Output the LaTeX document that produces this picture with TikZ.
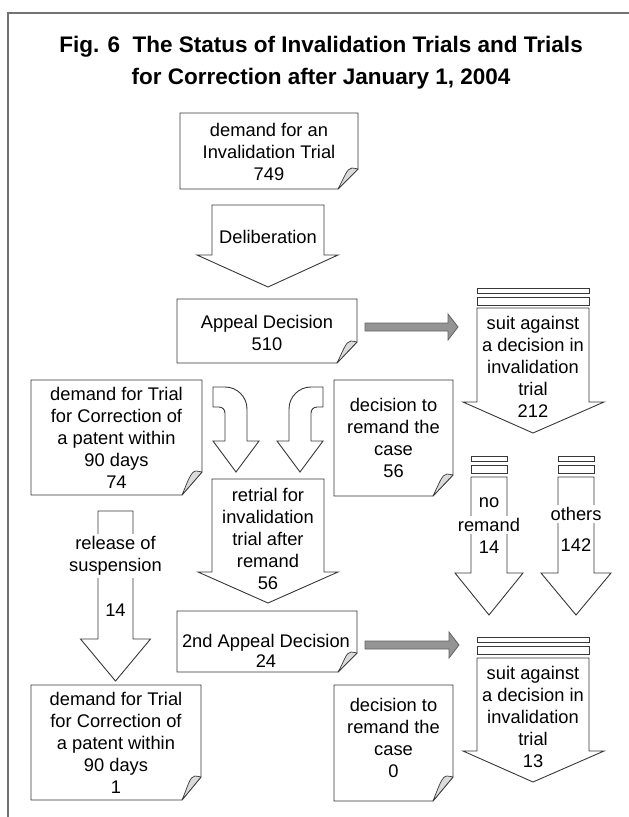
\documentclass[tikz,border=0pt]{standalone}
\usepackage{fontspec}
\setmainfont{Liberation Sans}
\tikzset{
  ln/.style={draw=black!78, line width=0.9pt, line join=miter, fill=white},
  txt/.style={font=\fontsize{18.3}{22}\selectfont, align=center, inner sep=0pt},
  wtxt/.style={txt, fill=white, inner xsep=1pt, inner ysep=2pt},
  curl/.style={draw=black!78, line width=0.7pt, fill=black!14, line join=round},
  grayarrow/.style={draw=black!62, line width=0.8pt, fill=black!42},
  framestyle/.style={draw=black!55, line width=1.3pt}
}
% folded-corner box: x1 y1 x2 y2 fx fy
\newcommand{\foldbox}[6]{%
  \draw[ln] (#1,#2) -- (#3,#2) -- (#3,#4-#6) -- (#3-#5,#4) -- (#1,#4) -- cycle;
  \draw[curl] (#3-#5,#4) .. controls (#3-#5+6,#4-#6+9) and (#3-11,#4-#6-1) .. (#3-6,#4-#6-1)
     .. controls (#3-3,#4-#6-1) and (#3-1,#4-#6) .. (#3,#4-#6) -- cycle;}
% block arrow down: xl xr ytop yshoulder wl wr ytip
\newcommand{\blockdown}[7]{%
  \draw[ln] (#1,#3) -- (#2,#3) -- (#2,#4) -- (#6,#4) -- ({(#1+#2)/2},#7) -- (#5,#4) -- (#1,#4) -- cycle;}
% gray horizontal arrow: xstart headbase tip ycenter
\newcommand{\grayarr}[4]{%
  \draw[grayarrow] (#1,#4-4) -- (#2,#4-4) -- (#2,#4-13) -- (#3,#4) -- (#2,#4+13) -- (#2,#4+4) -- (#1,#4+4) -- cycle;}
% two bars: xl y xr
\newcommand{\bars}[3]{%
  \draw[ln] (#1,#2) rectangle (#3,#2+5);
  \draw[ln] (#1,#2+9) rectangle (#3,#2+17);}
\begin{document}
\begin{tikzpicture}[x=1pt,y=-1pt]
\useasboundingbox (0,0) rectangle (629,817);
\draw[framestyle] (8,817) -- (8,13) -- (629,13);

\node[font=\fontsize{22.5}{32}\selectfont\bfseries, align=center] (title) at (321,63)
  {Fig. 6\ \ The Status of Invalidation Trials and Trials\\for Correction after January 1, 2004};

% demand for invalidation trial
\foldbox{180}{113}{358}{189}{20}{20}
\node[txt] (demand) at (269,152) {demand for an\\Invalidation Trial\\749};

% deliberation
\blockdown{212}{324}{205}{255}{197}{338}{287}
\node[txt] (delib) at (268,237) {Deliberation};

% appeal decision
\foldbox{177}{299}{357}{363}{20}{21}
\node[txt] (appeal) at (267,332.5) {Appeal Decision\\510};

% gray arrow 1
\grayarr{365}{448}{458}{327}

% suit against 1
\bars{477}{288}{589}
\blockdown{477}{589}{308}{402}{463}{604}{433}
\node[txt] (suit1) at (533,367) {suit against\\a decision in\\invalidation\\trial\\212};

% demand for trial for correction (top)
\foldbox{31}{380}{202}{495}{20}{23}
\node[txt] (corr1) at (116.5,438) {demand for Trial\\for Correction of\\a patent within\\90 days\\74};

% curved arrows
\draw[ln] (213,387) -- (225,387) .. controls (237.2,387) and (247,396.8) .. (247,409)
  -- (247,441) -- (259,441) -- (236,472) -- (213,441) -- (225,441) -- (225,413)
  .. controls (225,409.7) and (222.3,407) .. (219,407) -- (213,407) -- cycle;
\draw[ln] (323,387) -- (311,387) .. controls (298.8,387) and (289,396.8) .. (289,409)
  -- (289,441) -- (277,441) -- (300,472) -- (323,441) -- (311,441) -- (311,413)
  .. controls (311,409.7) and (313.7,407) .. (317,407) -- (323,407) -- cycle;

% decision to remand 1
\foldbox{334}{380}{453}{496}{20}{21}
\node[txt] (rem1) at (393.5,438) {decision to\\remand the\\case\\56};

% retrial
\blockdown{212}{324}{479}{572}{198}{338}{603}
\node[txt] (retrial) at (268,539) {retrial for\\invalidation\\trial after\\remand\\56};

% no remand
\bars{471}{456}{507}
\blockdown{471}{507}{477}{573}{455}{523}{615}
\node[txt] (no) at (489,503) {no};
\node[wtxt] (noremand) at (489,525) {remand};
\node[txt] (n14) at (489,547) {14};

% others
\bars{558}{456}{594}
\blockdown{558}{594}{477}{573}{541}{611}{615}
\node[wtxt] (others) at (576,514) {others};
\node[txt] (n142) at (576,545) {142};

% release of suspension
\blockdown{98}{133}{511}{639}{80.5}{150.5}{681}
\node[wtxt] (release) at (115.5,556) {release of\\suspension};
\node[txt] (r14) at (115.5,610) {14};

% 2nd appeal decision
\foldbox{177}{611}{357}{672}{19}{19}
\node[txt, font=\fontsize{18.3}{19.5}\selectfont] (appeal2) at (266,651) {2nd Appeal Decision\\24};

% gray arrow 2
\grayarr{365}{449}{459}{645}

% suit against 2
\bars{477}{637}{589}
\blockdown{477}{589}{658}{751}{463}{604}{782}
\node[txt] (suit2) at (533,717) {suit against\\a decision in\\invalidation\\trial\\13};

% demand for trial for correction (bottom)
\foldbox{31}{685}{201}{800}{19}{23}
\node[txt] (corr2) at (116,743) {demand for Trial\\for Correction of\\a patent within\\90 days\\1};

% decision to remand 2
\foldbox{334}{685}{453}{801}{20}{24}
\node[txt] (rem2) at (393.5,738) {decision to\\remand the\\case\\0};
\end{tikzpicture}
\end{document}
